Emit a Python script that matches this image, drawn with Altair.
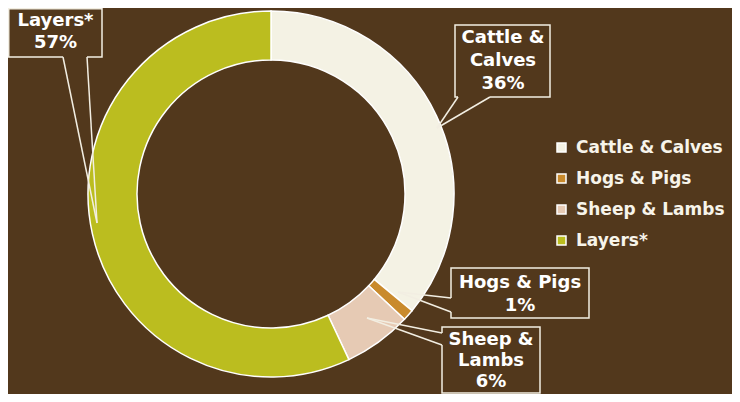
import altair as alt
import pandas as pd

# ---- data ----
categories = ["Cattle & Calves", "Hogs & Pigs", "Sheep & Lambs", "Layers*"]
shares = [36, 1, 6, 57]
label_lines = [["Cattle &", "Calves"], ["Hogs & Pigs"], ["Sheep &", "Lambs"], ["Layers*"]]
colors = ["#F4F2E4", "#C98A2C", "#E6CAB4", "#BBBD1F"]

# ---- style ----
BG = "#52381c"
LINE = "#F2EEE2"
FONT = "DejaVu Sans"
CX, CY = 263, 186

df = pd.DataFrame({"category": categories, "share": shares,
                   "order": list(range(len(categories)))})

donut = alt.Chart(df).mark_arc(
    innerRadius=134, outerRadius=183, stroke="white", strokeWidth=1.5
).encode(
    theta=alt.Theta("share:Q", stack=True),
    color=alt.Color(
        "category:N",
        sort=categories,
        scale=alt.Scale(domain=categories, range=colors),
        legend=alt.Legend(
            title=None, orient="none", legendX=545, legendY=131,
            symbolType="square", symbolSize=81, symbolStrokeColor="white",
            symbolStrokeWidth=1.5, symbolOpacity=1,
            labelColor="#F7F4EA", labelFont=FONT, labelFontSize=17,
            labelFontWeight="bold", labelOffset=6, rowPadding=13,
            padding=0, labelLimit=300,
        ),
    ),
    order=alt.Order("order:Q"),
    x=alt.value(CX),
    y=alt.value(CY),
)

# annotation layout (chart pixel coords): box, first text line centre, pointer tip, pointer base
layout = {
    0: dict(box=(447, 542, 17, 89), tx=495, ty=30, lh=23, tip=(429, 120), base=[(450, 89), (482, 89)]),
    1: dict(box=(443, 581, 260, 310), tx=512, ty=275, lh=23, tip=(390, 284), base=[(443, 290), (443, 304)]),
    2: dict(box=(434, 532, 319, 385), tx=483, ty=332, lh=21, tip=(359, 310), base=[(434, 325), (434, 337)]),
    3: dict(box=(0.75, 94, 0.75, 49), tx=47.5, ty=12.5, lh=22, tip=(89, 215), base=[(55, 49), (79, 49)]),
}

boxes, covers, pointers, texts = [], [], [], []
for i, g in layout.items():
    x1, x2, y1, y2 = g["box"]
    boxes.append(alt.Chart().mark_rect(fill=BG, stroke=LINE, strokeWidth=1.5).encode(
        x=alt.value(x1), x2=alt.value(x2), y=alt.value(y1), y2=alt.value(y2)))
    (bx1, by1), (bx2, by2) = g["base"]
    covers.append(alt.Chart().mark_rule(color=BG, strokeWidth=3).encode(
        x=alt.value(bx1), x2=alt.value(bx2), y=alt.value(by1), y2=alt.value(by2)))
    tx, ty = g["tip"]
    for (bx, by) in g["base"]:
        pointers.append(alt.Chart().mark_rule(color=LINE, strokeWidth=1.5).encode(
            x=alt.value(bx), x2=alt.value(tx), y=alt.value(by), y2=alt.value(ty)))
    texts.append(alt.Chart().mark_text(
        align="center", baseline="middle", font=FONT, fontSize=18,
        fontWeight="bold", color="white", lineHeight=g["lh"]
    ).encode(
        x=alt.value(g["tx"]), y=alt.value(g["ty"]),
        text=alt.value(label_lines[i] + [f"{shares[i]}%"]),
    ))

chart = alt.layer(donut, *boxes, *covers, *pointers, *texts).properties(
    width=724, height=386, padding=0, autosize="none", background=BG
).configure_view(stroke=None)

chart.save("out.html", embed_options={"renderer": "svg", "actions": False})
